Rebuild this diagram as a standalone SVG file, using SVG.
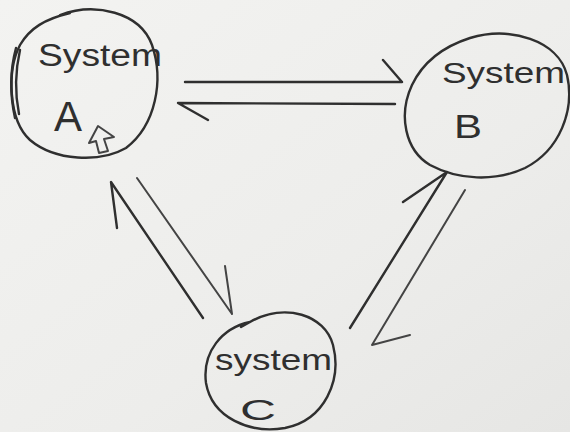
<svg xmlns="http://www.w3.org/2000/svg" width="570" height="432" viewBox="0 0 570 432">
  <defs>
    <linearGradient id="paper" x1="0" y1="0" x2="1" y2="1">
      <stop offset="0" stop-color="#f3f3f1"/>
      <stop offset="0.6" stop-color="#ededeb"/>
      <stop offset="1" stop-color="#e6e6e4"/>
    </linearGradient>
  </defs>
  <style>
    .ink { fill: none; stroke: #2f2f2f; stroke-width: 2.4; stroke-linecap: round; stroke-linejoin: round; }
    .thin { fill: none; stroke: #444; stroke-width: 2; stroke-linecap: round; stroke-linejoin: round; }
    .hand { font-family: "Liberation Sans", "DejaVu Sans", sans-serif; fill: #2f2f2f; }
  </style>
  <rect width="570" height="432" fill="url(#paper)"/>

  <!-- System A -->
  <g id="system-a">
    <path class="ink" d="M60 15 C95 2 140 12 152 45 C164 80 156 125 126 148 C100 163 55 161 30 140 C8 120 7 70 20 45 C30 28 45 19 70 13"/>
    <path class="ink" d="M16 48 C10 70 10 95 15 118 M20 50 C15 72 15 94 19 114"/>
    <text class="hand" x="38" y="66" font-size="31" textLength="124" lengthAdjust="spacingAndGlyphs">System</text>
    <text class="hand" x="54" y="131" font-size="42" textLength="28" lengthAdjust="spacingAndGlyphs">A</text>
    <path class="thin" d="M98 126 L89 143 L96 141 L99 153 L108 151 L104 139 L114 137 Z"/>
  </g>

  <!-- System B -->
  <g id="system-b">
    <path class="ink" d="M470 38 C510 26 558 40 567 75 C575 110 560 150 525 168 C495 182 458 180 430 165 C405 150 398 115 412 85 C424 60 445 46 470 38"/>
    <text class="hand" x="442" y="83" font-size="29" textLength="123" lengthAdjust="spacingAndGlyphs">System</text>
    <text class="hand" x="454" y="138" font-size="34" textLength="28" lengthAdjust="spacingAndGlyphs">B</text>
  </g>

  <!-- System C -->
  <g id="system-c">
    <path class="ink" d="M250 322 C285 302 325 315 333 345 C342 380 325 420 285 428 C250 434 212 418 206 383 C202 352 222 328 250 322 L241 327"/>
    <text class="hand" x="215" y="370" font-size="30" textLength="117" lengthAdjust="spacingAndGlyphs">system</text>
    <text class="hand" x="240" y="420" font-size="30" textLength="36" lengthAdjust="spacingAndGlyphs">C</text>
  </g>

  <!-- connectors -->
  <g id="connectors">
    <!-- A to B -->
    <path class="ink" d="M185 82 L402 82 M383 60 L402 82"/>
    <!-- B to A -->
    <path class="ink" d="M395 104 L178 103 L208 120"/>
    <!-- C to A -->
    <path class="ink" d="M203 318 L111 182 L117 228"/>
    <!-- A to C -->
    <path class="thin" d="M137 178 L232 314 M225 266 L232 314"/>
    <!-- C to B -->
    <path class="ink" d="M350 328 L447 172 L403 202"/>
    <!-- B to C -->
    <path class="thin" d="M465 190 L372 345 L410 335"/>
  </g>
</svg>
